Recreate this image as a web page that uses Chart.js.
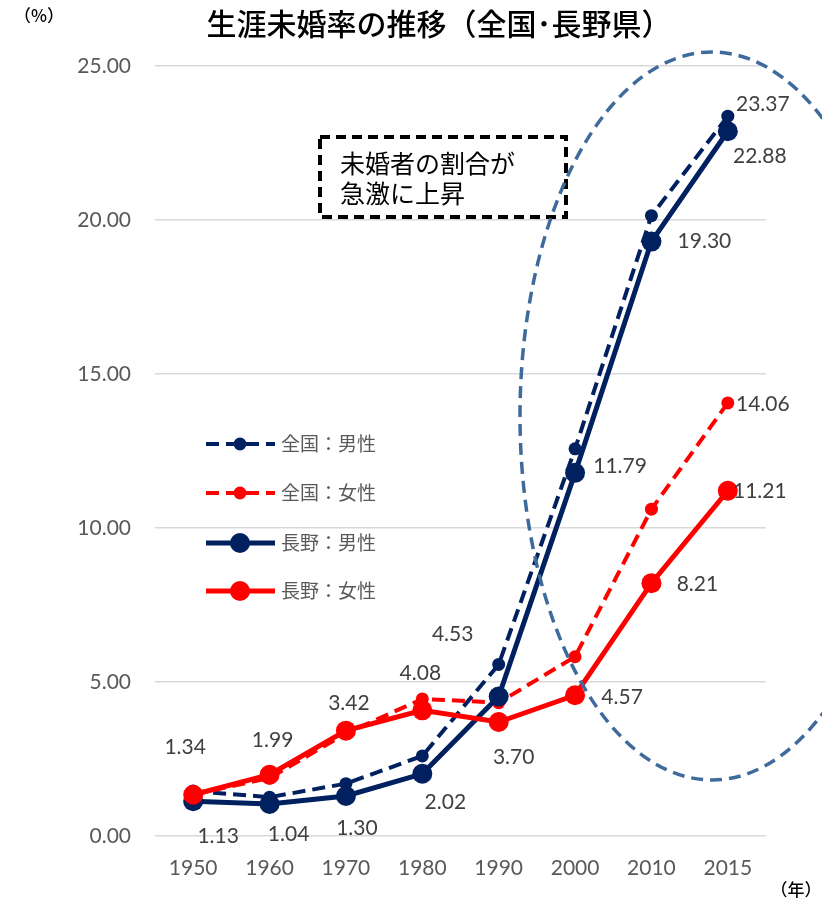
<!DOCTYPE html>
<html lang="ja">
<head>
<meta charset="utf-8">
<script src="https://cdn.jsdelivr.net/npm/chart.js@4/dist/chart.umd.min.js"></script>
<style>
html, body { margin: 0; padding: 0; background: #fff; }
#wrap { width: 822px; height: 903px; }
</style>
</head>
<body>
<div id="wrap"><canvas id="chart" width="822" height="903"></canvas></div>
<script>
// data
const years = ['1950', '1960', '1970', '1980', '1990', '2000', '2010', '2015'];
const zenkokuMale = [1.46, 1.26, 1.70, 2.60, 5.57, 12.57, 20.14, 23.37];
const zenkokuFemale = [1.35, 1.88, 3.33, 4.45, 4.33, 5.82, 10.61, 14.06];
const naganoMale = [1.13, 1.04, 1.30, 2.02, 4.53, 11.79, 19.30, 22.88];
const naganoFemale = [1.34, 1.99, 3.42, 4.08, 3.70, 4.57, 8.21, 11.21];
const seriesNames = ['全国：男性', '全国：女性', '長野：男性', '長野：女性'];
const yTicks = [0, 5, 10, 15, 20, 25];

const titleText = '生涯未婚率の推移（全国･長野県）';
const noteLines = ['未婚者の割合が', '急激に上昇'];

// where each value label sits relative to its point (null = no label)
const labelOffsets = [
    [null, null, null, null, null, null, null, [35, -12]],
    [null, null, null, null, null, null, null, [35, 1]],
    [[25, 35], [19, 30], [11, 32], [23, 28], [-46, -62], [45, -7], [53, 0], [32, 25]],
    [[-8, -47], [3, -34], [3, -27], [-2, -37], [15, 35], [47, 2], [46, 1], [32, 1]]
];

const NAVY = '#002060';
const RED = '#FF0000';
const JP = '"Noto Sans CJK JP", sans-serif';
const NUM = 'Lato, "Noto Sans CJK JP", sans-serif';

var extras = {
    id: 'extras',
    afterDraw(chart) {
        const ctx = chart.ctx;
        const ds = chart.data.datasets;
        ctx.save();

        // title and unit labels
        ctx.fillStyle = '#000';
        ctx.textAlign = 'center';
        ctx.textBaseline = 'middle';
        ctx.font = '500 30px ' + JP;
        ctx.fillText(titleText, 439, 24);
        ctx.font = '500 17px ' + JP;
        ctx.fillText('（%）', 39, 16);
        ctx.fillText('（年）', 796, 890);

        // value labels
        ctx.font = '21px ' + NUM;
        ctx.fillStyle = '#404040';
        labelOffsets.forEach((offs, i) => {
            const meta = chart.getDatasetMeta(i);
            offs.forEach((o, j) => {
                if (!o) return;
                const p = meta.data[j];
                ctx.fillText(ds[i].data[j].toFixed(2), p.x + o[0], p.y + o[1]);
            });
        });

        // legend inside the plot
        const rows = [444, 493, 543, 591];
        ds.forEach((d, i) => {
            const y = rows[i];
            ctx.strokeStyle = d.borderColor;
            ctx.lineWidth = d.borderWidth;
            ctx.setLineDash(d.borderDash || []);
            ctx.beginPath();
            ctx.moveTo(206, y);
            ctx.lineTo(275, y);
            ctx.stroke();
            ctx.setLineDash([]);
            ctx.fillStyle = d.pointBackgroundColor;
            ctx.beginPath();
            ctx.arc(240, y, d.pointRadius, 0, Math.PI * 2);
            ctx.fill();
            ctx.fillStyle = '#595959';
            ctx.textAlign = 'left';
            ctx.font = '19px ' + JP;
            ctx.fillText(d.label, 281, y);
        });

        // dashed note box
        ctx.fillStyle = '#fff';
        ctx.fillRect(320, 137, 246, 80);
        ctx.strokeStyle = '#000';
        ctx.lineWidth = 4;
        ctx.setLineDash([10, 6]);
        ctx.strokeRect(320, 137, 246, 80);
        ctx.setLineDash([]);
        ctx.fillStyle = '#000';
        ctx.font = '25px ' + JP;
        ctx.fillText(noteLines[0], 340, 163);
        ctx.fillText(noteLines[1], 340, 193);

        // dashed ellipse
        ctx.strokeStyle = '#3F6A9C';
        ctx.lineWidth = 3.5;
        ctx.setLineDash([12, 7]);
        ctx.beginPath();
        ctx.ellipse(712, 416, 192, 364, 0, 0, Math.PI * 2);
        ctx.stroke();

        ctx.restore();
    }
};

var chart = new Chart(document.getElementById('chart').getContext('2d'), {
    type: 'line',
    data: {
        labels: years,
        datasets: [{
            label: seriesNames[0],
            data: zenkokuMale,
            borderColor: NAVY,
            backgroundColor: NAVY,
            pointBackgroundColor: NAVY,
            borderWidth: 4,
            borderDash: [13, 7],
            pointRadius: 6.5,
            pointBorderWidth: 0,
            order: 3
        }, {
            label: seriesNames[1],
            data: zenkokuFemale,
            borderColor: RED,
            backgroundColor: RED,
            pointBackgroundColor: RED,
            borderWidth: 4,
            borderDash: [13, 7],
            pointRadius: 6.5,
            pointBorderWidth: 0,
            order: 2
        }, {
            label: seriesNames[2],
            data: naganoMale,
            borderColor: NAVY,
            backgroundColor: NAVY,
            pointBackgroundColor: NAVY,
            borderWidth: 5,
            pointRadius: 10,
            pointBorderWidth: 0,
            order: 1
        }, {
            label: seriesNames[3],
            data: naganoFemale,
            borderColor: RED,
            backgroundColor: RED,
            pointBackgroundColor: RED,
            borderWidth: 5,
            pointRadius: 10,
            pointBorderWidth: 0,
            order: 0
        }]
    },
    options: {
        responsive: false,
        animation: false,
        layout: { padding: { top: 66, right: 56, bottom: 17, left: 0 } },
        plugins: {
            legend: { display: false },
            title: { display: false },
            tooltip: { enabled: false }
        },
        scales: {
            x: {
                offset: true,
                grid: { display: false, drawTicks: false },
                border: { display: false },
                ticks: { padding: 20, color: '#595959', font: { family: NUM, size: 21 } },
                afterFit(s) { s.height = 50; }
            },
            y: {
                min: 0,
                max: 25,
                afterBuildTicks(s) { s.ticks = yTicks.map(v => ({ value: v })); },
                grid: { color: '#D9D9D9', lineWidth: 1.5, drawTicks: false },
                border: { display: false },
                ticks: {
                    padding: 24,
                    color: '#595959',
                    font: { family: NUM, size: 21 },
                    callback: v => v.toFixed(2)
                },
                afterFit(s) { s.width = 155; }
            }
        }
    },
    plugins: [extras]
});
</script>
</body>
</html>
